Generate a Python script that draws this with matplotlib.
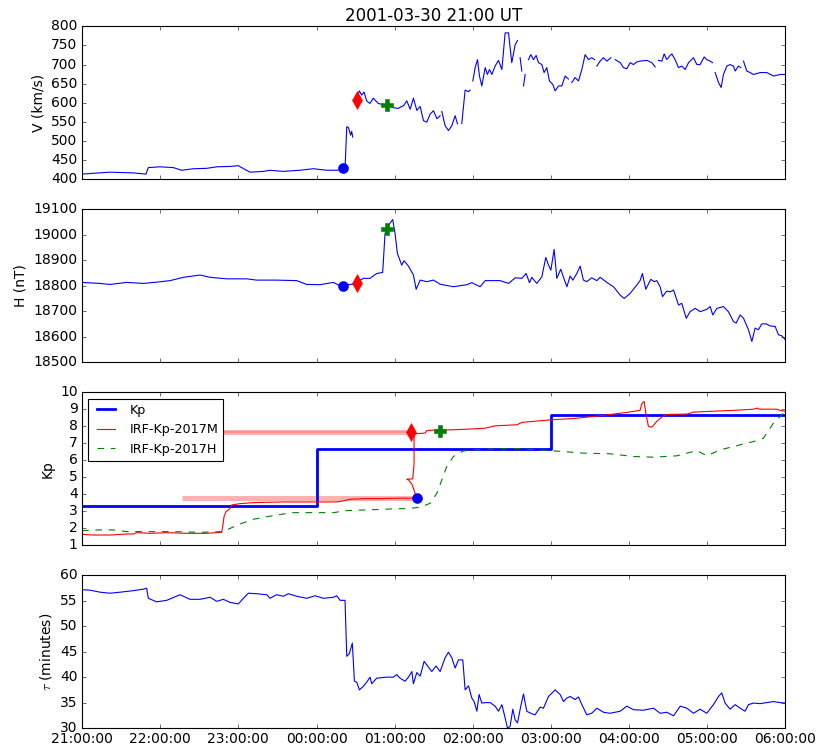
import numpy as np
import matplotlib
matplotlib.use("Agg")
import matplotlib.pyplot as plt
import matplotlib.dates as mdates

plt.style.use("classic")
plt.rcParams["figure.facecolor"] = "white"
plt.rcParams["savefig.facecolor"] = "white"
plt.rcParams["font.size"] = 12.5

# ---------------------------------------------------------------------------
# Data (time in minutes after 2001-03-30 21:00 UT)
# ---------------------------------------------------------------------------
nan = np.nan

# Solar wind speed V (km/s); NaN marks data gaps
v_min = [0, 8.7, 21.5, 39.4, 49.1, 50.9, 59.9, 70.1, 76.5, 85.5, 95.7, 103.4,
         113.6, 120, 125.1, 129, 139.2, 144.3, 154.5, 167.3, 177.6, 187.8,
         195.5, 200.1, 201.9, 203.2, 204.5, 206.2, 207.0, 207.8, 209.0,
         211.6, 212.9, 214.7, 216.5, 218.5, 221, 223.6, 227.4, 231.3, 235.1,
         238.9, 242.8, 244.2, 246.8, 249.3, 251.9, 254.4, 257, 259.6, 262.1,
         264.7, 267.2, 269.8, 272.4, 274.9, 275.5, 276.2, 278.7, 281.3, 283.9,
         286.4, 288.2, 290.0, 291.5, 294.1, 296.7, 297.9, 299.0, 300, 301.8,
         303.6, 305.1, 306.9, 309.5, 311.2, 312.8, 314.6, 317.1, 319.7, 322.3,
         324.8, 327.4, 329.9, 332.5, 334.3, 335.3, 336.3, 337.6, 338.2, 338.9,
         340.2, 341.5, 342.7, 344.5, 346.6, 348.6, 350.4, 353, 354.7, 356.8,
         358.8, 361.4, 363.2, 365.8, 368.3, 370.9, 373.4, 374.7, 376, 378.5,
         381.1, 383.7, 386.2, 388.8, 391.3, 393.4, 394.3, 395.2, 397.7, 400.3,
         402.9, 405.9, 407.5, 409.3, 413.1, 415.7, 418.2, 420.8, 423.3, 425.9,
         428.4, 433.6, 437.4, 440, 441.2, 442.5, 445.1, 446.9, 448.9, 451,
         452.8, 455.3, 457.9, 460.4, 463, 465.6, 469.4, 472, 474.5, 477.6,
         479.6, 482.2, 484, 485, 486, 488.6, 490.6, 492.4, 495, 497.5, 500.1,
         501.4, 503.9, 505.7, 506.7, 507.8, 510.3, 512.9, 515.4, 520.6, 525.7,
         530.8, 535.9, 540]
v_val = [413, 415, 418, 416, 413, 430, 432, 430, 423, 427, 428, 432,
         433, 435, 425, 418, 420, 423, 420, 423, 427, 423,
         423, 425, 425, 537, 535, 515, 525, 510, nan,
         618, 631, 620, 628, 605, 598, 612, 598, 595, 593,
         587, 585, 588, 592, 605, 583, 612, 580, 590, 553,
         549, 570, 579, 558, 566, nan, 577, 540, 527, 540,
         566, 545, nan, 545, 633, 629, 633, nan, 657, 692,
         713, 670, 644, 692, 674, 687, 674, 696, 711, 687,
         783, 783, 705, 752, 763, nan, 718, 683, nan, 644,
         674, nan, 713, 726, 713, 724, 705, 700, 679, 692,
         657, 648, 631, 644, 644, 670, 662, nan, 653, 666,
         657, 687, 726, 713, 718, 713, nan, 696, 709, 718,
         709, 718, nan, 713, 705, 692, 689, 705, 700, 707,
         709, 711, 705, 694, nan, 711, 709, 728, 713, 722,
         728, 713, 692, 696, 687, 705, 718, 700, 700, 720,
         713, 709, 705, nan, 679, 653, 640, 674, 696, 700, 696,
         683, 696, 692, nan, 709, 683, 679, 674, 679, 679,
         670, 674, 674]

# Ground magnetic field H (nT)
h_min = [0, 13.8, 21.5, 34.3, 47.1, 57.3, 67.6, 77.8, 90.6, 98.3, 111.1,
         126.4, 134.1, 149.4, 164.8, 172.5, 182.7, 193, 196.8, 200.1, 208.3,
         216, 221.1, 226.2, 230.8, 232.6, 235.2, 238.5, 240.3, 242.1, 245.4,
         247.2, 250.6, 254.4, 256.5, 259.6, 264.7, 269.8, 274.9, 285.1, 295.4,
         299.2, 305.6, 309.5, 321, 327.4, 332.5, 337.6, 340.9, 343.5, 345.3,
         349.1, 353, 356, 358.1, 359.9, 362.4, 364.5, 367.5, 369.6, 372.2,
         374.7, 376.8, 379.8, 382.4, 384.9, 387.5, 391.3, 395.2, 397.7, 402.9,
         408, 413.1, 416.2, 420.8, 425.9, 428.4, 430.2, 432.8, 436.6, 439.2,
         441.2, 443.8, 445.6, 448.9, 451.5, 454.1, 457.9, 460.4, 463.8, 466.8,
         470.7, 474.5, 479.6, 482.2, 484.2, 487.3, 492.4, 496.2, 500.1, 502.2,
         505.2, 507.8, 511.6, 514.2, 516.7, 519.3, 521.8, 525.2, 528.2, 532.1,
         534.6, 537.2, 540]
h_val = [18813, 18809, 18805, 18813, 18809, 18814, 18820, 18833, 18842, 18833,
         18827, 18827, 18822, 18822, 18820, 18805, 18804, 18813, 18803, 18803,
         18806, 18829, 18829, 18848, 18852, 19005, 19037, 19060, 19005, 18927,
         18881, 18898, 18877, 18842, 18786, 18822, 18816, 18822, 18806, 18796,
         18804, 18812, 18796, 18820, 18820, 18809, 18831, 18829, 18848, 18812,
         18833, 18809, 18835, 18911, 18881, 18861, 18943, 18829, 18865, 18833,
         18796, 18838, 18822, 18848, 18877, 18822, 18816, 18831, 18820, 18833,
         18813, 18796, 18763, 18750, 18770, 18803, 18820, 18848, 18786, 18825,
         18816, 18820, 18796, 18757, 18779, 18776, 18783, 18724, 18731, 18672,
         18698, 18711, 18698, 18707, 18718, 18685, 18711, 18718, 18698, 18659,
         18653, 18685, 18672, 18627, 18581, 18633, 18627, 18650, 18650, 18642,
         18640, 18607, 18603, 18587]

# Official Kp (3-hour values starting 21, 00, 03 UT; last repeated to close the step)
kp_hours = [0, 3, 6, 9]
kp_val = [3.33, 6.67, 8.67, 8.67]

# IRF-Kp-2017M forecast, plotted at its (propagation-shifted) valid time
irf_m_min = [0, 8.7, 21.5, 34.3, 39.4, 42, 52.2, 65, 80.4, 95.7, 107.2, 108,
             109, 110.5, 113.6, 114.9, 121.3, 131.5, 141.8, 154.6, 167.4, 182.7,
             193, 198, 205.7, 218.5, 231.3, 244.1, 251.8, 257, 253.2, 250.6,
             249.3, 253.9, 254.9, 254.9, 255.7, 263.4, 264.7, 272.4, 282.6, 295.4,
             309.5, 317.1, 333.8, 337.6, 359.4, 377.3, 397.7, 418.2, 428.4, 429.7,
             431.5, 432.8, 434.8, 437.4, 441.2, 446.3, 448.9, 464.3, 469.4, 487.3,
             500.1, 515.4, 518, 520.6, 533.4, 535.9, 540]
irf_m_val = [1.63, 1.59, 1.59, 1.65, 1.65, 1.73, 1.69, 1.73, 1.69, 1.69, 1.75, 2.08,
             2.67, 2.97, 3.15, 3.36, 3.44, 3.50, 3.52, 3.54, 3.54, 3.54,
             3.54, 3.56, 3.70, 3.74, 3.74, 3.76, 3.76, 3.76, 4.60, 4.84,
             4.88, 4.90, 5.82, 7.60, 7.56, 7.60, 7.75, 7.79, 7.79, 7.83,
             7.89, 8.03, 8.09, 8.23, 8.38, 8.46, 8.62, 8.82, 8.94, 9.33,
             9.47, 8.78, 7.99, 7.95, 8.29, 8.62, 8.70, 8.72, 8.84, 8.90,
             8.94, 9.01, 9.07, 9.01, 9.01, 8.94, 8.88]

# IRF-Kp-2017H forecast
irf_h_min = [0, 13.8, 24, 34.3, 52.2, 70.1, 90.6, 108.5, 113.6, 121.3, 131.5,
             141.8, 154.6, 162.3, 180.2, 193, 203.2, 218.5, 239, 250, 259.6,
             267.2, 272.4, 276.2, 280, 285.1, 292.8, 308.2, 333.8, 359.4, 385,
             405.4, 423.3, 438.7, 456.6, 472, 479.6, 489.9, 500.1, 515.4, 523.1,
             530.8, 538.5, 540]
irf_h_val = [1.85, 1.89, 1.89, 1.79, 1.79, 1.79, 1.75, 1.79, 1.98, 2.24, 2.52,
             2.67, 2.83, 2.91, 2.91, 2.91, 3.03, 3.07, 3.13, 3.15, 3.23,
             3.46, 4.05, 4.84, 5.63, 6.22, 6.55, 6.65, 6.69, 6.57, 6.42,
             6.38, 6.22, 6.18, 6.26, 6.57, 6.26, 6.61, 6.81, 7.10, 7.30,
             8.19, 8.78, 8.88]

# Propagation time tau (minutes)
tau_min = [0, 6.1, 13.8, 21.5, 29.2, 39.4, 47.1, 49.6, 50.9, 57.3, 65, 75.2,
           82.9, 90.6, 98.3, 103.4, 108.5, 113.6, 120, 123.9, 127.7, 134.1,
           141.8, 144.3, 149.4, 154.6, 158.4, 164.8, 172.5, 178.9, 185.3, 193,
           195.5, 198.1, 201.9, 203.2, 205.2, 207.5, 209.1, 210.9, 212.9, 216,
           218.5, 221.1, 222.4, 226.2, 233.9, 239, 241.6, 244.1, 248, 250.6,
           253.2, 254.4, 257, 259.6, 262.6, 264.7, 268.5, 271.8, 274.9, 278.7,
           281.3, 283.9, 286.4, 289, 292.3, 294.1, 296.7, 299.2, 301, 303.1,
           304.8, 306.9, 309.5, 313.3, 317.1, 319.7, 322.3, 324.8, 326.6, 328.6,
           330.7, 332.5, 334.3, 336.8, 338.9, 341.4, 345.3, 347.8, 351.7, 354.2,
           358.1, 363.2, 367, 369.6, 372.2, 374.7, 378.5, 381.1, 383.7, 387.5,
           391.3, 395.2, 400.3, 405.4, 413.1, 418.2, 423.3, 431, 438.7, 443.8,
           448.9, 454.1, 459.2, 464.3, 469.4, 474.5, 479.6, 484.7, 488.6, 491.1,
           493.7, 497.5, 501.4, 505.2, 509, 511.6, 515.4, 520.6, 525.7, 530.8,
           535.9, 540]
tau_val = [57.2, 57.1, 56.7, 56.5, 56.7, 57.0, 57.3, 57.5, 55.5, 54.8, 55.1, 56.2,
           55.3, 55.3, 55.7, 54.9, 55.3, 54.7, 54.4, 55.5, 56.5, 56.4,
           56.2, 55.5, 56.2, 55.9, 56.4, 55.9, 55.5, 56.0, 55.5, 55.7,
           56.0, 55.1, 55.1, 44.1, 44.6, 46.7, 39.2, 39.0, 37.5, 38.2,
           39.0, 40.0, 38.7, 39.8, 40.0, 40.0, 40.5, 39.8, 39.2, 40.0,
           41.1, 38.7, 40.9, 40.2, 43.1, 42.4, 41.1, 42.2, 41.1, 43.8,
           44.9, 43.8, 41.8, 43.4, 43.4, 37.5, 38.3, 35.9, 35.2, 33.3,
           36.6, 34.9, 35.0, 35.0, 34.3, 33.3, 34.6, 32.0, 30.0, 30.3,
           33.7, 31.6, 31.0, 34.3, 36.7, 33.3, 32.8, 32.6, 34.1, 33.9,
           36.2, 37.5, 36.6, 35.2, 35.9, 36.2, 35.6, 36.1, 34.6, 32.6,
           32.9, 33.9, 33.1, 32.9, 33.3, 34.3, 33.6, 33.5, 33.9, 32.9,
           33.1, 32.4, 34.3, 33.9, 32.9, 33.7, 32.9, 34.6, 36.2, 36.9,
           34.9, 33.7, 34.6, 33.9, 33.3, 34.6, 34.9, 34.8, 35.0, 35.2,
           35.0, 34.9]

# Event markers: shock arrival (circle), forecast issue (diamond), peak (plus)
sw_mark_min = [200.1, 210.9, 233.9]
v_mark = [430, 607, 595]
h_mark = [18800, 18809, 19022]
kp_mark_min = [257.0, 252.3, 274.9]
kp_mark = [3.76, 7.66, 7.75]
forecast_window_min = 180

# ---------------------------------------------------------------------------
start = np.datetime64("2001-03-30T21:00:00")


def to_time(minutes):
    secs = np.round(np.asarray(minutes, dtype=float) * 60).astype(int)
    return start + secs.astype("timedelta64[s]")


fig = plt.figure(figsize=(817 / 80, 750 / 80), dpi=80)
left, width, height = 0.1004, 0.861, 0.2035
bottoms = [0.7613, 0.5173, 0.2733, 0.0293]
axes = [fig.add_axes([left, b, width, height]) for b in bottoms]
ax_v, ax_h, ax_kp, ax_tau = axes

mk_style = [dict(marker="o", color="b", ms=9),
            dict(marker="d", color="r", ms=11),
            dict(marker="P", color="g", ms=10)]

# V panel
ax_v.plot(to_time(v_min), v_val, color="b", lw=1)
for t, y, st in zip(sw_mark_min, v_mark, mk_style):
    ax_v.plot(to_time([t]), [y], ls="none", mec=st["color"], mfc=st["color"],
              marker=st["marker"], ms=st["ms"], zorder=5)
ax_v.set_ylim(400, 800)
ax_v.set_yticks(np.arange(400, 801, 50))
ax_v.set_ylabel("V (km/s)")
ax_v.set_title("2001-03-30 21:00 UT")

# H panel
ax_h.plot(to_time(h_min), h_val, color="b", lw=1)
for t, y, st in zip(sw_mark_min, h_mark, mk_style):
    ax_h.plot(to_time([t]), [y], ls="none", mec=st["color"], mfc=st["color"],
              marker=st["marker"], ms=st["ms"], zorder=5)
ax_h.set_ylim(18500, 19100)
ax_h.set_yticks(np.arange(18500, 19101, 100))
ax_h.set_ylabel("H (nT)")

# Kp panel
kp_t = to_time(np.asarray(kp_hours) * 60)
ax_kp.plot(kp_t, kp_val, color="b", lw=2.5, drawstyle="steps-post", label="Kp")
ax_kp.plot(to_time(irf_m_min), irf_m_val, color="r", lw=1, label="IRF-Kp-2017M")
ax_kp.plot(to_time(irf_h_min), irf_h_val, color="g", lw=1, ls="--",
           dashes=(6, 6), label="IRF-Kp-2017H")
for t, y in zip(kp_mark_min[:2], kp_mark[:2]):
    ax_kp.plot(to_time([t - forecast_window_min, t]), [y, y], color="r",
               lw=4.5, alpha=0.3, solid_capstyle="butt", zorder=1)
ax_kp.plot(to_time([kp_mark_min[1] - forecast_window_min, kp_mark_min[1]]),
           [kp_mark[1]] * 2, color="r", lw=1.5, alpha=0.25,
           solid_capstyle="butt", zorder=1)
for t, y, st in zip(kp_mark_min, kp_mark, mk_style):
    ax_kp.plot(to_time([t]), [y], ls="none", mec=st["color"], mfc=st["color"],
               marker=st["marker"], ms=st["ms"], zorder=5)
ax_kp.set_ylim(1, 10)
ax_kp.set_yticks(np.arange(1, 11, 1))
ax_kp.set_ylabel("Kp")
ax_kp.legend(loc="upper left", fontsize=11.5)

# tau panel
ax_tau.plot(to_time(tau_min), tau_val, color="b", lw=1)
ax_tau.set_ylim(30, 60)
ax_tau.set_yticks(np.arange(30, 61, 5))
ax_tau.set_ylabel(r"$\tau$ (minutes)")

t0, t1 = to_time([0, 540])
for ax in axes:
    ax.set_xlim(t0, t1)
    ax.xaxis.set_major_locator(mdates.HourLocator())
    ax.xaxis.set_major_formatter(mdates.DateFormatter("%H:%M:%S"))
for ax in axes[:-1]:
    ax.tick_params(labelbottom=False)

fig.savefig("out.png", dpi=80)
